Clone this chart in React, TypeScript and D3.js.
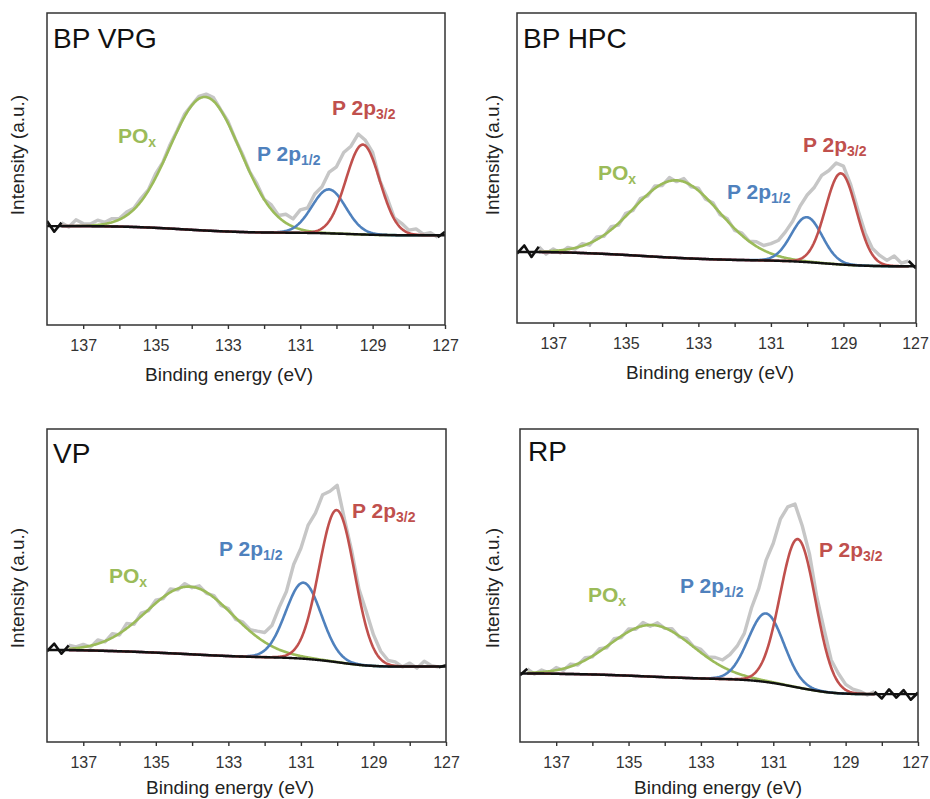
import React, { useEffect, useRef } from "react";
import * as d3 from "d3";

// ---------- data ----------
const E_MAX = 138;
const E_MIN = 127;
const RAW_STEP = 0.2; // eV spacing of the raw spectra (138 -> 127)

const panelTitles = ["BP VPG", "BP HPC", "VP", "RP"];
const componentNames = ["PO", "P 2p", "P 2p"];
const componentSubs = ["x", "1/2", "3/2"];
const componentColors = ["#9bbb59", "#4f81bd", "#c0504d"];

const tickValues = [137, 136, 135, 134, 133, 132, 131, 130, 129, 128, 127];
const tickLabels = [137, 135, 133, 131, 129, 127];

// raw spectra (intensity, a.u.), 138.0 -> 127.0 eV every 0.2 eV
const rawBPVPG = [
  33.3, 29.9, 32.8, 31.4, 33.7, 32.5, 32.4, 33.6, 32.9, 34.1,
  34.1, 36.2, 37.4, 40.6, 43.3, 48.4, 52.1, 57.8, 62.4, 67.5,
  70.5, 73.3, 74.0, 72.9, 69.0, 65.3, 59.7, 54.8, 49.2, 45.3,
  40.3, 38.5, 35.1, 35.5, 34.0, 36.9, 37.5, 42.0, 44.3, 49.0,
  50.7, 55.3, 57.3, 61.2, 59.2, 55.3, 46.3, 40.8, 34.3, 32.6,
  30.4, 30.8, 29.1, 29.6, 28.1, 29.9,
];
const rawBPHPC = [
  22.4, 25.0, 21.3, 24.6, 22.2, 23.9, 22.6, 24.4, 23.8, 25.6,
  25.1, 27.8, 28.0, 31.1, 31.6, 35.4, 36.3, 40.1, 41.0, 44.2,
  44.3, 46.9, 45.6, 46.6, 43.9, 43.5, 39.9, 38.8, 34.9, 33.6,
  29.9, 29.0, 26.4, 26.2, 25.0, 25.6, 26.6, 29.4, 32.8, 37.6,
  41.3, 43.8, 47.6, 49.2, 51.6, 50.6, 44.6, 36.5, 29.0, 24.0,
  21.8, 20.2, 21.6, 19.3, 20.0, 17.6,
];
const rawVP = [
  29.0, 31.4, 28.2, 30.9, 30.4, 31.2, 30.3, 32.6, 32.0, 34.6,
  34.2, 37.9, 37.6, 41.2, 42.0, 45.3, 45.8, 48.9, 48.6, 50.6,
  49.3, 49.9, 47.5, 46.8, 43.6, 42.6, 39.2, 38.3, 35.9, 35.4,
  35.0, 37.2, 43.0, 48.1, 56.7, 61.9, 69.3, 73.1, 79.0, 80.1,
  82.0, 71.2, 61.1, 48.9, 41.8, 34.3, 29.0, 26.1, 25.6, 24.0,
  25.2, 23.6, 25.8, 24.4, 23.9, 24.5,
];
const rawRP = [
  21.3, 23.4, 21.7, 23.0, 22.1, 23.8, 22.9, 24.9, 24.6, 26.9,
  27.2, 29.8, 30.1, 33.0, 33.4, 36.1, 36.0, 38.2, 37.0, 38.1,
  36.3, 36.2, 33.6, 33.1, 30.5, 29.6, 27.2, 27.0, 26.2, 27.9,
  30.6, 34.7, 42.9, 49.1, 58.0, 63.5, 71.3, 75.1, 76.0, 69.1,
  60.1, 46.5, 36.2, 26.2, 21.9, 18.4, 16.9, 16.2, 15.0, 16.1,
  13.9, 16.8, 14.2, 16.6, 13.5, 15.8,
];

// background (Shirley) knots, 138 -> 127 eV every 0.5 eV
const bgBPVPG = [31.7, 31.7, 31.7, 31.65, 31.55, 31.4, 31.15, 30.85, 30.5, 30.2, 29.95, 29.75, 29.65, 29.6, 29.55, 29.45, 29.3, 29.1, 28.9, 28.8, 28.75, 28.75, 28.75];
const bgBPHPC = [22.9, 22.9, 22.85, 22.7, 22.5, 22.25, 21.95, 21.6, 21.25, 20.95, 20.7, 20.5, 20.35, 20.25, 20.15, 19.95, 19.65, 19.2, 18.8, 18.5, 18.35, 18.3, 18.3];
const bgVP = [29.4, 29.4, 29.3, 29.15, 29.0, 28.8, 28.55, 28.3, 28.0, 27.7, 27.45, 27.25, 27.1, 26.95, 26.7, 26.2, 25.5, 24.7, 24.25, 24.1, 24.1, 24.1, 24.1];
const bgRP = [21.9, 21.9, 21.8, 21.7, 21.6, 21.4, 21.2, 20.95, 20.7, 20.5, 20.3, 20.15, 20.0, 19.6, 18.9, 17.8, 16.7, 15.8, 15.4, 15.3, 15.3, 15.3, 15.3];

// fitted components [POx, P 2p1/2, P 2p3/2]
const centersBPVPG = [133.63, 130.21, 129.27];
const heightsBPVPG = [42.8, 14.1, 28.8];
const fwhmBPVPG = [2.3, 1.1, 1.1];
const centersBPHPC = [133.6, 130.01, 129.07];
const heightsBPHPC = [25.0, 14.5, 29.4];
const fwhmBPHPC = [2.8, 1.0, 1.0];
const centersVP = [134.06, 130.93, 130.01];
const heightsVP = [21.6, 24.3, 48.6];
const fwhmVP = [2.8, 1.15, 1.15];
const centersRP = [134.35, 131.2, 130.32];
const heightsRP = [16.5, 21.9, 47.4];
const fwhmRP = [2.7, 1.15, 1.15];

// fitted energy window [high, low]
const fitBPVPG = [137.6, 127.2];
const fitBPHPC = [137.4, 127.2];
const fitVP = [137.4, 127.2];
const fitRP = [137.8, 128.2];

// ---------- layout ----------
const FONT = "'Liberation Sans', Arial, Helvetica, sans-serif";

const layouts = [
  {
    box: { left: 47, top: 13, right: 445, bottom: 325 },
    title: [53, 48], yTitle: [24, 155], xTitle: [229, 381],
    labels: [[118, 143], [257, 161], [332, 115]],
  },
  {
    box: { left: 517, top: 13, right: 916, bottom: 323 },
    title: [523, 48], yTitle: [499, 155], xTitle: [710, 379],
    labels: [[598, 180], [727, 199], [803, 152]],
  },
  {
    box: { left: 47, top: 429, right: 446, bottom: 742 },
    title: [53, 463], yTitle: [24, 588], xTitle: [230, 794],
    labels: [[109, 583], [219, 556], [352, 518]],
  },
  {
    box: { left: 520, top: 429, right: 918, bottom: 742 },
    title: [528, 461], yTitle: [499, 588], xTitle: [718, 794],
    labels: [[588, 602], [680, 593], [819, 557]],
  },
];

const panelData = [
  { raw: rawBPVPG, bg: bgBPVPG, centers: centersBPVPG, heights: heightsBPVPG, fwhm: fwhmBPVPG, fit: fitBPVPG },
  { raw: rawBPHPC, bg: bgBPHPC, centers: centersBPHPC, heights: heightsBPHPC, fwhm: fwhmBPHPC, fit: fitBPHPC },
  { raw: rawVP, bg: bgVP, centers: centersVP, heights: heightsVP, fwhm: fwhmVP, fit: fitVP },
  { raw: rawRP, bg: bgRP, centers: centersRP, heights: heightsRP, fwhm: fwhmRP, fit: fitRP },
];

type Pt = { e: number; v: number };

function XAxis({ x, y0, lastShift }: { x: d3.ScaleLinear<number, number>; y0: number; lastShift: number }) {
  const ref = useRef<SVGGElement>(null);
  useEffect(() => {
    if (!ref.current) return;
    const axis = d3
      .axisBottom(x)
      .tickValues(tickValues)
      .tickSize(4)
      .tickSizeOuter(0)
      .tickPadding(11)
      .tickFormat((d) => (tickLabels.includes(d as number) ? String(d) : ""));
    const g = d3.select(ref.current);
    g.call(axis as any);
    g.select(".domain").remove();
    g.selectAll(".tick line").attr("stroke", "#333").attr("stroke-width", 1.4);
    g.selectAll<SVGTextElement, number>(".tick text")
      .attr("fill", "#333")
      .attr("dx", (d) => (d === E_MIN ? lastShift : 0))
      .style("font-family", FONT)
      .style("font-size", "16px");
  }, [x, lastShift]);
  return <g ref={ref} transform={`translate(0,${y0})`} />;
}

function Panel({ idx }: { idx: number }) {
  const L = layouts[idx];
  const D = panelData[idx];
  const { box } = L;
  const x = d3.scaleLinear().domain([E_MAX, E_MIN]).range([box.left, box.right]);
  const y = d3.scaleLinear().domain([0, 100]).range([box.bottom, box.top]);
  const line = d3
    .line<Pt>()
    .x((d) => x(d.e))
    .y((d) => y(d.v));

  const rawPts: Pt[] = D.raw.map((v, i) => ({ e: E_MAX - i * RAW_STEP, v }));
  const eps = 1e-6;
  const inFit = rawPts.filter((p) => p.e <= D.fit[0] + eps && p.e >= D.fit[1] - eps);
  const leftEdge = rawPts.filter((p) => p.e >= D.fit[0] - eps);
  const rightEdge = rawPts.filter((p) => p.e <= D.fit[1] + eps);

  const bgInterp = d3.interpolateBasis(D.bg);
  const bgAt = (e: number) => bgInterp((E_MAX - e) / (E_MAX - E_MIN));
  const fineAll = d3.range(E_MAX, E_MIN - 0.001, -0.02);
  const fineFit = d3.range(D.fit[0], D.fit[1] - 0.001, -0.02);
  const bgPts: Pt[] = fineAll.map((e) => ({ e, v: bgAt(e) }));

  const comps = D.centers.map((c, k) => {
    const s = D.fwhm[k] / 2.3548;
    return fineFit.map((e) => ({
      e,
      v: bgAt(e) + D.heights[k] * Math.exp(-((e - c) * (e - c)) / (2 * s * s)),
    }));
  });

  const clipId = `clip-${idx}`;
  const lastShift = box.right + 14 > 929 ? 929 - 14 - box.right : 0;

  return (
    <g>
      <defs>
        <clipPath id={clipId}>
          <rect x={box.left} y={box.top} width={box.right - box.left} height={box.bottom - box.top} />
        </clipPath>
      </defs>
      <g clipPath={`url(#${clipId})`}>
        <path d={line(inFit) || ""} fill="none" stroke="#c6c6c6" strokeWidth={3.4} strokeLinejoin="round" />
        {comps.map((pts, k) => (
          <path key={k} d={line(pts) || ""} fill="none" stroke={componentColors[k]} strokeWidth={2.6} />
        ))}
        <path d={line(bgPts) || ""} fill="none" stroke="#111" strokeWidth={2.4} />
        <path d={line(leftEdge) || ""} fill="none" stroke="#111" strokeWidth={2.6} strokeLinejoin="round" />
        <path d={line(rightEdge) || ""} fill="none" stroke="#111" strokeWidth={2.6} strokeLinejoin="round" />
      </g>
      <rect
        x={box.left}
        y={box.top}
        width={box.right - box.left}
        height={box.bottom - box.top}
        fill="none"
        stroke="#333"
        strokeWidth={1.5}
      />
      <XAxis x={x} y0={box.bottom} lastShift={lastShift} />
      <text x={L.title[0]} y={L.title[1]} fontSize={28} fontFamily={FONT} fill="#111">
        {panelTitles[idx]}
      </text>
      <text
        transform={`translate(${L.yTitle[0]},${L.yTitle[1]}) rotate(-90)`}
        textAnchor="middle"
        fontSize={19}
        fontFamily={FONT}
        fill="#222"
      >
        Intensity (a.u.)
      </text>
      <text x={L.xTitle[0]} y={L.xTitle[1]} textAnchor="middle" fontSize={19} fontFamily={FONT} fill="#222">
        Binding energy (eV)
      </text>
      {L.labels.map((p, k) => (
        <text key={k} x={p[0]} y={p[1]} fontSize={21} fontWeight="bold" fontFamily={FONT} fill={componentColors[k]}>
          <tspan>{componentNames[k]}</tspan>
          <tspan fontSize={14} dy={4}>
            {componentSubs[k]}
          </tspan>
        </text>
      ))}
    </g>
  );
}

export default function App() {
  return (
    <svg
      width={930}
      height={799}
      viewBox="0 0 930 799"
      style={{ position: "absolute", left: 0, top: 0, background: "#fff" }}
    >
      <rect x={0} y={0} width={930} height={799} fill="#fff" />
      {[0, 1, 2, 3].map((i) => (
        <Panel key={i} idx={i} />
      ))}
    </svg>
  );
}
